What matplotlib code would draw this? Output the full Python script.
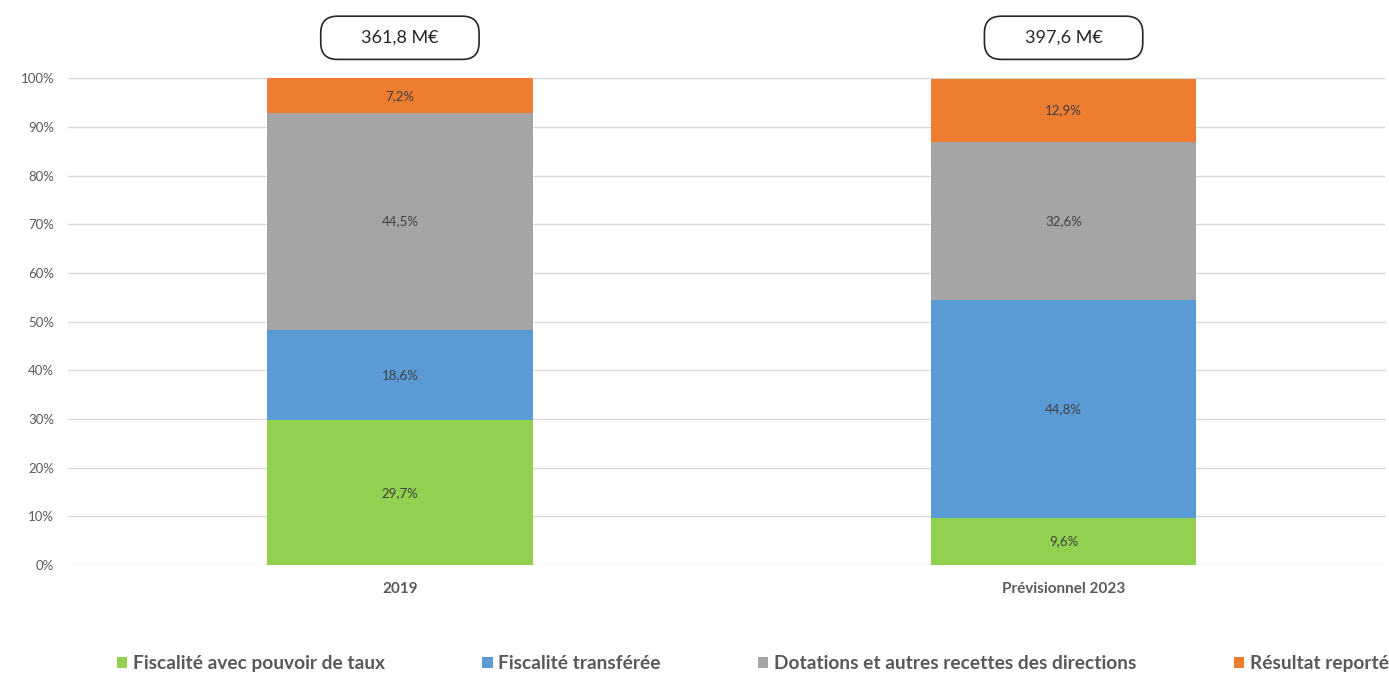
import matplotlib.pyplot as plt
from matplotlib.patches import FancyBboxPatch, Patch

plt.rcParams['font.family'] = ['Lato', 'DejaVu Sans']

# Données
annees = ['2019', 'Prévisionnel 2023']
totaux = ['361,8 M€', '397,6 M€']
series = ['Fiscalité avec pouvoir de taux', 'Fiscalité transférée',
          'Dotations et autres recettes des directions', 'Résultat reporté']
fiscalite_taux = [29.7, 9.6]
fiscalite_transferee = [18.6, 44.8]
dotations = [44.5, 32.6]
resultat_reporte = [7.2, 12.9]
couleurs = ['#92D050', '#5B9BD5', '#A5A5A5', '#ED7D31']

fig = plt.figure(figsize=(13.89, 6.75), dpi=100)
ax = fig.add_axes([0.049, 0.163, 0.948, 0.721])

x = [0, 1]
bas = [0, 0]
for valeurs, couleur in zip([fiscalite_taux, fiscalite_transferee, dotations, resultat_reporte], couleurs):
    ax.bar(x, valeurs, width=0.4, bottom=bas, color=couleur, zorder=2)
    for xi, v, b in zip(x, valeurs, bas):
        ax.text(xi, b + v / 2, f"{v:.1f}%".replace('.', ','), ha='center', va='center',
                fontsize=9.5, color='#404040', zorder=3)
    bas = [b + v for b, v in zip(bas, valeurs)]

ax.set_xlim(-0.5, 1.484)
ax.set_ylim(0, 100)
ax.set_yticks(range(0, 101, 10))
ax.set_yticklabels([f"{t}%" for t in range(0, 101, 10)], fontsize=9.5, color='#595959')
ax.set_xticks(x)
ax.set_xticklabels(annees, fontsize=11, color='#595959', fontweight='bold')
ax.tick_params(length=0, pad=10)
ax.tick_params(axis='x', pad=12)
ax.yaxis.grid(True, color='#D9D9D9', linewidth=1, zorder=0)
for s in ax.spines.values():
    s.set_visible(False)

# Encadrés des montants totaux
for xi, t in zip(x, totaux):
    xf = ax.transData.transform((xi, 0))[0] / fig.bbox.width
    box = FancyBboxPatch((xf - 0.057, 0.912), 0.114, 0.064, transform=fig.transFigure,
                         boxstyle='round,pad=0,rounding_size=0.012', facecolor='white',
                         edgecolor='#262626', linewidth=1.2, mutation_aspect=2.06)
    fig.patches.append(box)
    fig.text(xf, 0.944, t, ha='center', va='center', fontsize=13, color='#262626')

# Légende étalée sur toute la largeur
handles = [Patch(facecolor=c) for c in couleurs]
leg = fig.legend(handles, series, loc='lower left', bbox_to_anchor=(0.084, 0.004, 0.916, 0.04),
                 mode='expand', ncol=4, frameon=False, borderaxespad=0, borderpad=0,
                 handlelength=0.55, handleheight=0.55, handletextpad=0.3,
                 prop={'weight': 'bold', 'size': 13.8})
for txt in leg.get_texts():
    txt.set_color('#595959')

fig.savefig('out.png', dpi=100)
